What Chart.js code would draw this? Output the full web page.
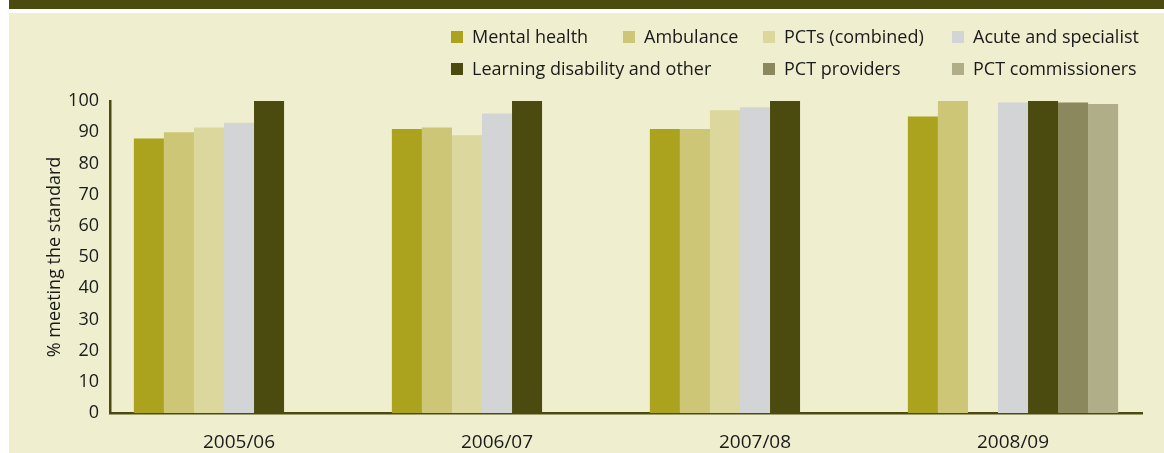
<!DOCTYPE html>
<html>
<head>
<meta charset="utf-8">
<script src="https://cdn.jsdelivr.net/npm/chart.js@4/dist/chart.umd.min.js"></script>
<style>
    html, body { margin: 0; padding: 0; background: #ffffff; }
    #page { position: relative; width: 1164px; height: 453px; overflow: hidden; font-family: "Open Sans", sans-serif; }
    #topbar { position: absolute; left: 9px; top: 0; width: 1155px; height: 9px; background: #4b4b10; }
    #panel { position: absolute; left: 9px; top: 13px; width: 1155px; height: 440px; background: #efefcf; }
    #chart-wrap { position: absolute; left: 0; top: 0; width: 1164px; height: 453px; }
    .leg { position: absolute; height: 12px; font-size: 18px; color: #1a1a1a; white-space: nowrap; }
    .leg i { position: absolute; left: 0; top: 0; width: 12px; height: 12px; }
    .leg span { position: absolute; left: 21px; top: -7px; line-height: 24px; }
</style>
</head>
<body>
<div id="page">
    <div id="topbar"></div>
    <div id="panel"></div>
    <div id="chart-wrap"><canvas id="trustChart" width="1164" height="453"></canvas></div>
    <div id="legend"></div>
</div>
<script>
const years = ['2005/06', '2006/07', '2007/08', '2008/09'];

const seriesNames = ['Mental health', 'Ambulance', 'PCTs (combined)', 'Acute and specialist',
    'Learning disability and other', 'PCT providers', 'PCT commissioners'];
const seriesColors = ['#aba21d', '#cdc676', '#dcd79d', '#d3d4d6', '#4b4b10', '#8b885e', '#b0ad89'];

// % meeting the standard, per year
const mentalHealth = [88, 91, 91, 95];
const ambulance = [90, 91.5, 91, 100];
const pctsCombined = [91.5, 89, 97, null];
const acuteSpecialist = [93, 96, 98, 99.5];
const learningDisability = [100, 100, 100, 100];
const pctProviders = [null, null, null, 99.5];
const pctCommissioners = [null, null, null, 99];

const yTicks = [0, 10, 20, 30, 40, 50, 60, 70, 80, 90, 100];

const seriesValues = [mentalHealth, ambulance, pctsCombined, acuteSpecialist,
    learningDisability, pctProviders, pctCommissioners];

// legend spots (box left, box top), row-major like the original
const legendSpots = [[451, 31], [623, 31], [763, 31], [952, 31], [451, 63], [763, 63], [952, 63]];

function buildLegend() {
    const box = document.getElementById('legend');
    box.innerHTML = seriesNames.map((name, i) => `
        <div class="leg" style="left:${legendSpots[i][0]}px; top:${legendSpots[i][1]}px;">
            <i style="background:${seriesColors[i]}"></i><span>${name}</span>
        </div>`).join('');
}

function renderChart() {
    const ctx = document.getElementById('trustChart').getContext('2d');
    new Chart(ctx, {
        type: 'bar',
        data: {
            labels: years,
            datasets: seriesNames.map((name, i) => ({
                label: name,
                data: seriesValues[i],
                backgroundColor: seriesColors[i],
                borderWidth: 0,
                categoryPercentage: 0.815,
                barPercentage: 1.0
            }))
        },
        options: {
            responsive: false,
            animation: false,
            layout: { padding: { left: 0, right: 22, top: 101, bottom: 0 } },
            plugins: {
                legend: { display: false },
                tooltip: { enabled: false }
            },
            scales: {
                x: {
                    grid: { display: false },
                    border: { display: true, color: '#4b4b10', width: 2.5 },
                    ticks: {
                        color: '#1a1a1a',
                        font: { family: 'Open Sans', size: 19 },
                        padding: 10
                    },
                    afterFit: s => { s.height = 40; }
                },
                y: {
                    min: 0,
                    max: 100,
                    afterBuildTicks: s => { s.ticks = yTicks.map(v => ({ value: v })); },
                    grid: { display: false, drawTicks: false },
                    border: { display: true, color: '#4b4b10', width: 2.5 },
                    ticks: {
                        color: '#1a1a1a',
                        font: { family: 'Open Sans', size: 18 },
                        padding: 11
                    },
                    title: {
                        display: true,
                        text: '% meeting the standard',
                        color: '#1a1a1a',
                        font: { family: 'Open Sans', size: 18 },
                        padding: { top: 44, bottom: 0 }
                    },
                    afterFit: s => { s.width = 110; }
                }
            }
        }
    });
}

buildLegend();
renderChart();
</script>
</body>
</html>
